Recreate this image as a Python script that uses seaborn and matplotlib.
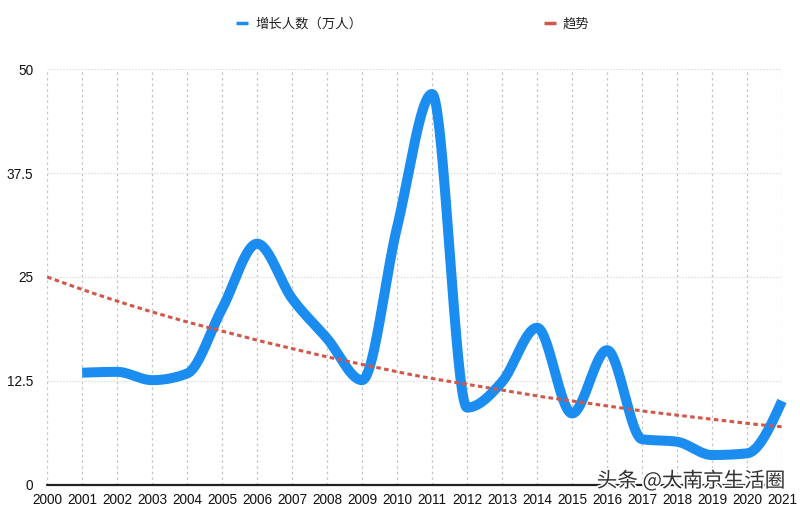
import numpy as np
import pandas as pd
import matplotlib
matplotlib.use("Agg")
import matplotlib.pyplot as plt
import matplotlib.patheffects as pe
from matplotlib.lines import Line2D
import seaborn as sns

# ---- data ----
years = list(range(2001, 2022))
growth = [13.5, 13.6, 12.6, 13.4, 21.2, 29.0, 22.4, 17.6, 12.6, 31.0, 47.0,
          9.3, 12.4, 18.9, 8.6, 16.2, 5.5, 5.2, 3.6, 3.8, 10.1]
trend_years = list(range(2000, 2022))
trend = [25.0, 23.5, 22.1, 20.8, 19.6, 18.5, 17.4, 16.4, 15.4, 14.5, 13.6,
         12.8, 12.1, 11.4, 10.7, 10.1, 9.5, 8.9, 8.4, 7.9, 7.4, 7.0]
y_ticks = [0, 12.5, 25, 37.5, 50]
y_labels = ["0", "12.5", "25", "37.5", "50"]
series_names = ["增长人数（万人）", "趋势"]
watermark = "头条 @大南京生活圈"

BLUE = "#1b8df0"
RED = "#d2574b"


def monotone_curve(x, y, n=40):
    """Monotone cubic (d3 curveMonotoneX style) rendering of a polyline."""
    x = np.asarray(x, float)
    y = np.asarray(y, float)
    h = np.diff(x)
    s = np.diff(y) / h
    m = np.zeros_like(y)
    for i in range(1, len(y) - 1):
        h0, h1 = h[i - 1], h[i]
        s0, s1 = s[i - 1], s[i]
        p = (s0 * h1 + s1 * h0) / (h0 + h1)
        m[i] = (np.sign(s0) + np.sign(s1)) * min(abs(s0), abs(s1), 0.5 * abs(p))
    m[0] = (3 * s[0] - m[1]) / 2
    m[-1] = (3 * s[-1] - m[-2]) / 2
    xs, ys = [], []
    for i in range(len(x) - 1):
        t = np.linspace(0, 1, n, endpoint=(i == len(x) - 2))
        h00 = 2 * t**3 - 3 * t**2 + 1
        h10 = t**3 - 2 * t**2 + t
        h01 = -2 * t**3 + 3 * t**2
        h11 = t**3 - t**2
        xs.append(x[i] + t * h[i])
        ys.append(h00 * y[i] + h10 * h[i] * m[i] + h01 * y[i + 1] + h11 * h[i] * m[i + 1])
    return np.concatenate(xs), np.concatenate(ys)


sns.set_style("white")
plt.rcParams["font.family"] = ["Noto Sans CJK SC", "DejaVu Sans"]

fig = plt.figure(figsize=(8, 5.07), dpi=100)
ax = fig.add_axes([0.059, 0.0434, 0.9185, 0.8205])

cx, cy = monotone_curve(years, growth)
curve_df = pd.DataFrame({"year": cx, "value": cy})
sns.lineplot(data=curve_df, x="year", y="value", ax=ax, color=BLUE,
             linewidth=7.2, sort=False, estimator=None, zorder=4)
ax.lines[-1].set_solid_capstyle("butt")
ax.lines[-1].set_solid_joinstyle("round")
ax.lines[-1].set_clip_on(False)

tx, ty = monotone_curve(trend_years, trend)
sns.lineplot(x=tx, y=ty, ax=ax, color=RED, linewidth=2.2, sort=False,
             estimator=None, zorder=5)
ax.lines[-1].set_dashes((1.5, 1.1))
ax.lines[-1].set_clip_on(False)

ax.set_xlim(2000, 2021)
ax.set_ylim(0, 50)
for s in ax.spines.values():
    s.set_visible(False)

# grid
for yr in trend_years:
    ax.axvline(yr, color="#c4c4c4", lw=0.9, ls=(0, (2, 2.5)), zorder=1)
for v in y_ticks[1:]:
    ax.axhline(v, color="#e2e2e2", lw=0.9, ls=(0, (1.5, 1)), zorder=1)
ax.axhline(0, color="#222222", lw=1.6, zorder=3, clip_on=False)

ax.set_yticks(y_ticks)
ax.set_yticklabels(y_labels)
ax.set_xticks(trend_years)
ax.set_xticklabels([str(v) for v in trend_years])
ax.tick_params(axis="y", length=0, pad=10, labelcolor="#111111")
ax.tick_params(axis="x", length=0, pad=5.5, labelcolor="#111111")
for lab in ax.get_xticklabels():
    lab.set_fontfamily(["Liberation Sans", "DejaVu Sans"])
    lab.set_fontsize(9.8)
for lab in ax.get_yticklabels():
    lab.set_fontfamily(["Liberation Sans", "DejaVu Sans"])
    lab.set_fontsize(9.8)
ax.set_xlabel("")
ax.set_ylabel("")

handles = [Line2D([0], [0], color=BLUE, lw=2.5, solid_capstyle="butt"),
           Line2D([0], [0], color=RED, lw=2.5, solid_capstyle="butt")]
fig.legend(handles, series_names, loc="center", bbox_to_anchor=(0.516, 0.953),
           ncol=2, frameon=False, handlelength=0.9, handletextpad=0.55,
           columnspacing=13.6, fontsize=9.6, labelcolor="#222222")

fig.text(0.981, 0.0513, watermark, ha="right", va="center", fontsize=14.8,
         color="#333333",
         path_effects=[pe.withStroke(linewidth=2.5, foreground="white")],
         zorder=10)

fig.savefig("out.png", dpi=100)
